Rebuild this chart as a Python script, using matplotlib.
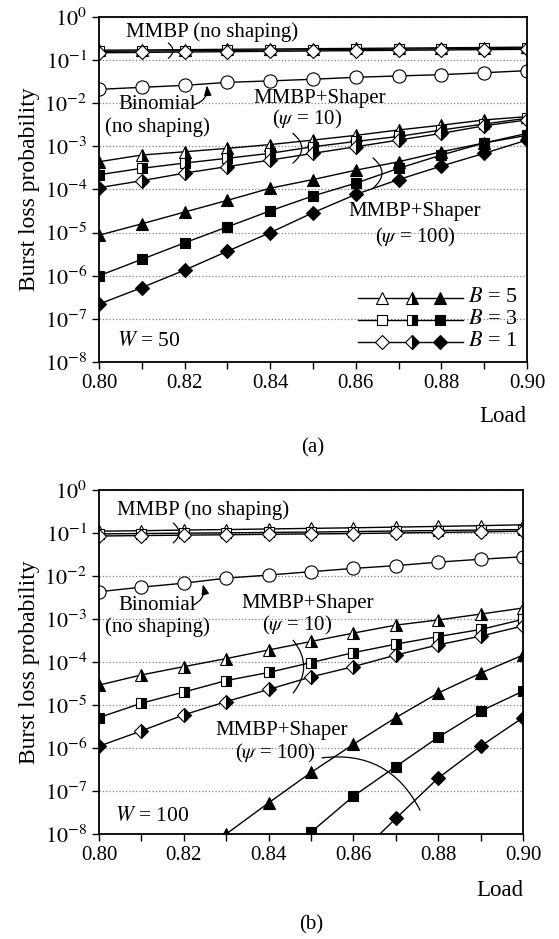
import numpy as np
import matplotlib
matplotlib.use('Agg')
import matplotlib.pyplot as plt
from matplotlib.ticker import FixedLocator, MultipleLocator

plt.rcParams['font.family'] = ['Liberation Serif', 'DejaVu Serif']
plt.rcParams['mathtext.fontset'] = 'stix'
plt.rcParams['font.size'] = 15

load = [0.80, 0.81, 0.82, 0.83, 0.84, 0.85, 0.86, 0.87, 0.88, 0.89, 0.90]

# ---- (a) W = 50 ----
a_nosh_B5 = [0.17, 0.172, 0.175, 0.178, 0.181, 0.184, 0.187, 0.19, 0.193, 0.196, 0.20]
a_nosh_B3 = [0.16, 0.162, 0.165, 0.168, 0.171, 0.174, 0.177, 0.18, 0.183, 0.186, 0.19]
a_nosh_B1 = [0.148, 0.151, 0.154, 0.157, 0.16, 0.163, 0.166, 0.169, 0.172, 0.175, 0.178]
a_binom = [0.021, 0.0234, 0.026, 0.0305, 0.033, 0.036, 0.040, 0.043, 0.046, 0.051, 0.057]
a_psi10_B5 = [4.4e-4, 6.3e-4, 7.5e-4, 9e-4, 1.1e-3, 1.4e-3, 1.8e-3, 2.4e-3, 3.1e-3, 4.1e-3, 4.9e-3]
a_psi10_B3 = [2.2e-4, 3.1e-4, 4.1e-4, 5.3e-4, 6.9e-4, 9.8e-4, 1.3e-3, 1.7e-3, 2.4e-3, 3.3e-3, 4.5e-3]
a_psi10_B1 = [1.1e-4, 1.6e-4, 2.4e-4, 3.4e-4, 4.8e-4, 6.9e-4, 9.8e-4, 1.4e-3, 2.0e-3, 3.0e-3, 4.1e-3]
a_psi100_B5 = [8.7e-6, 1.6e-5, 3.0e-5, 5.6e-5, 1.07e-4, 1.7e-4, 2.8e-4, 4.4e-4, 7.5e-4, 1.2e-3, 2.0e-3]
a_psi100_B3 = [1.0e-6, 2.4e-6, 5.8e-6, 1.36e-5, 3.2e-5, 7.1e-5, 1.4e-4, 3.1e-4, 6.3e-4, 1.2e-3, 1.8e-3]
a_psi100_B1 = [2.2e-7, 5.3e-7, 1.35e-6, 3.7e-6, 1.0e-5, 2.9e-5, 7.7e-5, 1.7e-4, 3.5e-4, 6.9e-4, 1.4e-3]

# ---- (b) W = 100 ----
b_nosh_B5 = [0.11, 0.113, 0.117, 0.12, 0.124, 0.128, 0.132, 0.137, 0.142, 0.148, 0.155]
b_nosh_B3 = [0.095, 0.097, 0.099, 0.101, 0.103, 0.105, 0.108, 0.111, 0.114, 0.117, 0.12]
b_nosh_B1 = [0.085, 0.087, 0.089, 0.091, 0.093, 0.095, 0.097, 0.1, 0.103, 0.106, 0.11]
b_binom = [4.3e-3, 5.5e-3, 6.8e-3, 8.9e-3, 1.05e-2, 1.26e-2, 1.5e-2, 1.74e-2, 2.1e-2, 2.45e-2, 2.8e-2]
b_psi10_B5 = [2.9e-5, 5.0e-5, 7.8e-5, 1.2e-4, 1.9e-4, 3.0e-4, 4.7e-4, 7.2e-4, 9.5e-4, 1.3e-3, 1.8e-3]
b_psi10_B3 = [5.1e-6, 1.1e-5, 2.0e-5, 3.7e-5, 5.7e-5, 9.7e-5, 1.65e-4, 2.6e-4, 3.9e-4, 5.7e-4, 9.8e-4]
b_psi10_B1 = [1.1e-6, 2.5e-6, 5.9e-6, 1.2e-5, 2.3e-5, 4.5e-5, 7.8e-5, 1.45e-4, 2.5e-4, 4.0e-4, 6.9e-4]
b_psi100_B5 = [1e-12, 1e-11, 1e-10, 1.0e-8, 5.3e-8, 2.7e-7, 1.22e-6, 5.1e-6, 1.9e-5, 5.5e-5, 1.45e-4]
b_psi100_B3 = [1e-14, 1e-13, 1e-12, 1e-11, 1e-10, 1.1e-8, 7.6e-8, 3.7e-7, 1.78e-6, 7.2e-6, 2.1e-5]
b_psi100_B1 = [1e-15, 1e-14, 1e-13, 1e-12, 1e-11, 1e-10, 2.5e-9, 2.3e-8, 2.0e-7, 1.1e-6, 5.1e-6]

ytick_labels = ['$10^{0}$', '$10^{-1}$', '$10^{-2}$', '$10^{-3}$', '$10^{-4}$',
                '$10^{-5}$', '$10^{-6}$', '$10^{-7}$', '$10^{-8}$']
xtick_labels = ['0.80', '0.82', '0.84', '0.86', '0.88', '0.90']

markers = {'B5': '^', 'B3': 's', 'B1': 'D'}
msize = {'^': 8.5, 's': 7, 'D': 7}
lw = 1.0


def curve(ax, y, m, kind):
    if kind == 'hollow':
        kw = dict(markerfacecolor='white')
    elif kind == 'half':
        kw = dict(fillstyle='right', markerfacecolor='black', markerfacecoloralt='white')
    else:
        kw = dict(markerfacecolor='black')
    ax.plot(load, y, color='black', lw=lw, marker=m, markersize=msize[m],
            markeredgecolor='black', markeredgewidth=0.8, **kw)


def setup(ax):
    ax.set_yscale('log')
    ax.set_ylim(1e-8, 1)
    ax.set_xlim(0.80, 0.90)
    ax.yaxis.set_major_locator(FixedLocator([10.0 ** -k for k in range(9)]))
    ax.yaxis.set_minor_locator(FixedLocator([]))
    ax.set_yticklabels(ytick_labels)
    ax.set_xticks([0.80, 0.82, 0.84, 0.86, 0.88, 0.90])
    ax.set_xticklabels(xtick_labels)
    ax.xaxis.set_minor_locator(MultipleLocator(0.01))
    ax.tick_params(which='both', direction='out', length=5, width=1.0, labelsize=15,
                   top=False, right=False)
    ax.tick_params(axis='y', labelsize=16)
    ax.grid(axis='y', which='major', linestyle=':', color='gray', lw=0.9)
    for s in ax.spines.values():
        s.set_linewidth(1.3)
    ax.set_ylabel('Burst loss probability', fontsize=17, labelpad=3)


def brace(ax, p1, p2, rad=-0.6):
    ax.annotate('', xy=p2, xytext=p1,
                arrowprops=dict(arrowstyle='-', color='black', lw=0.9, shrinkA=0, shrinkB=0,
                                connectionstyle='arc3,rad=%s' % rad))


def hook_arrow(ax, p1, p2):
    ax.annotate('', xy=p2, xytext=p1,
                arrowprops=dict(arrowstyle='-|>,head_length=0.4,head_width=0.15', color='black',
                                lw=0.9, shrinkA=0, shrinkB=0, connectionstyle='arc3,rad=0.4'))


fig = plt.figure(figsize=(5.59, 9.39), dpi=100)
axa = fig.add_axes([0.1771, 0.6145, 0.7657, 0.3674])
axb = fig.add_axes([0.1771, 0.1118, 0.7585, 0.3664])

for ax, d in [(axa, 'a'), (axb, 'b')]:
    setup(ax)
    g = globals()
    ax.plot(load, g[d + '_binom'], color='black', lw=lw, marker='o', markersize=9.5,
            markerfacecolor='white', markeredgecolor='black', markeredgewidth=0.8)
    for b in ['B5', 'B3', 'B1']:
        curve(ax, g[d + '_nosh_' + b], markers[b], 'hollow')
        curve(ax, g[d + '_psi10_' + b], markers[b], 'half')
        curve(ax, g[d + '_psi100_' + b], markers[b], 'full')

# texts (a)
tk = dict(transform=axa.transAxes, ha='center', va='center', fontsize=15)
axa.text(0.264, 0.957, 'MMBP (no shaping)', **tk)
axa.text(0.136, 0.745, 'Binomial', **tk)
axa.text(0.136, 0.682, '(no shaping)', **tk)
axa.text(0.516, 0.763, 'MMBP+Shaper', **tk)
axa.text(0.486, 0.702, r'($\psi$ = 10)', **tk)
axa.text(0.738, 0.435, 'MMBP+Shaper', **tk)
axa.text(0.738, 0.360, r'($\psi$ = 100)', **tk)
axa.text(0.042, 0.058, r'$W$ = 50', transform=axa.transAxes, ha='left', va='center', fontsize=15.5)

brace(axa, (0.8162, 0.25), (0.8162, 0.11))
hook_arrow(axa, (0.8222, 0.0092), (0.8252, 0.026))
brace(axa, (0.8453, 2.0e-3), (0.8453, 4.1e-4))
brace(axa, (0.8640, 5.4e-4), (0.8640, 1.07e-4))

# texts (b)
tk = dict(transform=axb.transAxes, ha='center', va='center', fontsize=15)
axb.text(0.245, 0.942, 'MMBP (no shaping)', **tk)
axb.text(0.137, 0.663, 'Binomial', **tk)
axb.text(0.137, 0.600, '(no shaping)', **tk)
axb.text(0.493, 0.669, 'MMBP+Shaper', **tk)
axb.text(0.467, 0.606, r'($\psi$ = 10)', **tk)
axb.text(0.432, 0.300, 'MMBP+Shaper', **tk)
axb.text(0.415, 0.233, r'($\psi$ = 100)', **tk)
axb.text(0.038, 0.052, r'$W$ = 100', transform=axb.transAxes, ha='left', va='center', fontsize=15.5)

brace(axb, (0.8175, 0.17), (0.8175, 0.059))
hook_arrow(axb, (0.8222, 2.1e-3), (0.8245, 6.4e-3))
brace(axb, (0.8458, 3.2e-4), (0.8458, 1.9e-5), rad=-0.4)
axb.annotate('', xy=(0.8757, 3.6e-8), xytext=(0.8526, 5.9e-7),
             arrowprops=dict(arrowstyle='-', color='black', lw=0.9, shrinkA=0, shrinkB=0,
                             connectionstyle='arc3,rad=-0.35'))

# legend (a), drawn by hand in axes coords
rows = [('B5', 0.186, '$B$ = 5'), ('B3', 0.122, '$B$ = 3'), ('B1', 0.058, '$B$ = 1')]
for b, yy, lab in rows:
    m = markers[b]
    axa.plot([0.605, 0.850], [yy, yy], color='black', lw=lw, transform=axa.transAxes)
    axa.plot([0.661], [yy], marker=m, markersize=msize[m], color='black',
             markerfacecolor='white', markeredgewidth=0.8, transform=axa.transAxes)
    axa.plot([0.731], [yy], marker=m, markersize=msize[m], color='black', fillstyle='right',
             markerfacecolor='black', markerfacecoloralt='white', markeredgewidth=0.8,
             transform=axa.transAxes)
    axa.plot([0.797], [yy], marker=m, markersize=msize[m], color='black',
             markerfacecolor='black', markeredgewidth=0.8, transform=axa.transAxes)
    axa.text(0.862, yy, lab, transform=axa.transAxes, ha='left', va='center', fontsize=16)

fig.text(0.900, 1 - 416 / 939, 'Load', ha='center', va='center', fontsize=16.5)
fig.text(0.894, 1 - 890 / 939, 'Load', ha='center', va='center', fontsize=16.5)
fig.text((99 + 527) / 2 / 559, 1 - 448 / 939, '(a)', ha='center', va='center', fontsize=15)
fig.text((99 + 523) / 2 / 559, 1 - 925 / 939, '(b)', ha='center', va='center', fontsize=15)

fig.savefig('out.png', dpi=100)
